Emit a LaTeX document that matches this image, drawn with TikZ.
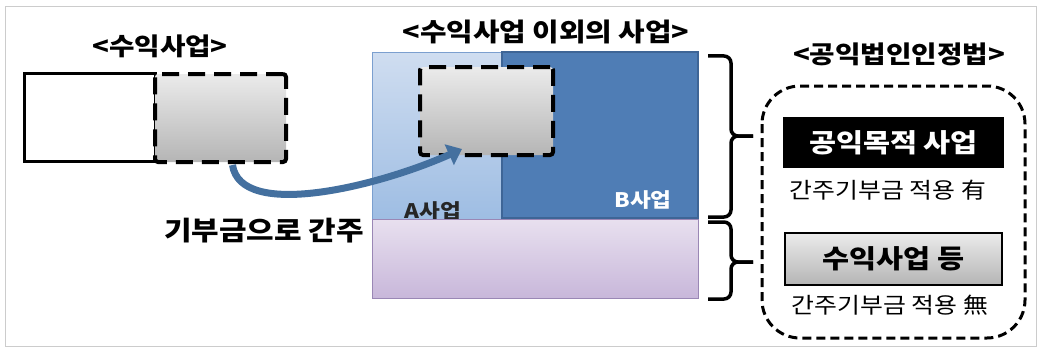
\documentclass[tikz,border=0pt]{standalone}
\usepackage{fontspec}
\setmainfont[FakeStretch=1.13]{Noto Sans CJK KR}
\usetikzlibrary{arrows.meta}
\definecolor{arrowblue}{HTML}{44709F}
\definecolor{bblue}{HTML}{4F7DB5}
\definecolor{bblueline}{HTML}{3E6596}
\definecolor{ablue1}{HTML}{CFDDF0}
\definecolor{ablue2}{HTML}{9EBDE3}
\definecolor{abline}{HTML}{7B9FCF}
\definecolor{purp1}{HTML}{E8E0EF}
\definecolor{purp2}{HTML}{C8B7DA}
\definecolor{purpline}{HTML}{9A87B5}
\definecolor{gray1}{HTML}{EBEBEB}
\definecolor{gray2}{HTML}{B5B5B5}
\begin{document}
\begin{tikzpicture}[x=1pt,y=-1pt,
  title/.style={font=\bfseries\fontsize{24.5}{28}\selectfont},
  note/.style={font=\fontsize{22}{26}\selectfont},
  plainbox/.style={draw=black, line width=3pt, fill=white, inner sep=0pt},
  dashbox/.style={draw=black, line width=4pt, dash pattern=on 17pt off 9pt, rounded corners=3pt, top color=gray1, bottom color=gray2, inner sep=0pt},
  bracestyle/.style={draw=black, line width=3.5pt, rounded corners=7pt},
  sublabel/.style={font=\bfseries\fontsize{20}{24}\selectfont},
]
\useasboundingbox (0,0) rectangle (1043,353);
\draw[black!20, line width=1pt] (5,7) rectangle (1036,346);

% left part
\node[title] (t1) at (160,46) {<수익사업>};
\node[plainbox, minimum width=131pt, minimum height=88pt] (w) at (89.5,117) {};
\node[dashbox, minimum width=131pt, minimum height=88pt] (g) at (220.5,118) {};
\node[font=\bfseries\fontsize{26.5}{30}\selectfont] (kibu) at (264,231) {기부금으로 간주};

% middle part
\node[title, font=\bfseries\fontsize{25.5}{30}\selectfont] (t2) at (546,32) {<수익사업 이외의 사업>};
\node[draw=abline, line width=1pt, top color=ablue1, bottom color=ablue2, minimum width=130pt, minimum height=166pt, inner sep=0pt] (A) at (437,136) {};
\node[draw=bblueline, line width=1.5pt, fill=bblue, minimum width=196pt, minimum height=166pt, inner sep=0pt] (B) at (600,135) {};
\node[sublabel, text=black!85] (Alab) at (433,211) {A사업};
\node[draw=purpline, line width=1pt, top color=purp1, bottom color=purp2, minimum width=326pt, minimum height=79pt, inner sep=0pt] (P) at (535,258.5) {};
\node[dashbox, minimum width=133pt, minimum height=88pt] (ga) at (486.5,111) {};
\node[sublabel, text=white] (Blab) at (643,200) {B사업};

% arrow
\draw[arrowblue, line width=7pt, -{Triangle[length=14pt,width=22pt]}]
  ([xshift=12pt,yshift=-1pt]g.south) .. controls +(8,55) and +(-85,38) .. ([xshift=44pt,yshift=8pt]ga.south west);

% braces
\draw[bracestyle] (708,56) -- (731,56) -- (731,136) -- (753,136);
\draw[bracestyle] (708,217) -- (731,217) -- (731,136) -- (753,136);
\draw[bracestyle] (708,222) -- (731,222) -- (731,262) -- (753,262);
\draw[bracestyle] (708,299) -- (731,299) -- (731,262) -- (753,262);

% right part
\node[title] (t3) at (899,54) {<공익법인인정법>};
\draw[line width=3pt, dash pattern=on 9pt off 5pt, rounded corners=38pt] (762,86) rectangle (1025,338);
\node[fill=black, minimum width=221pt, minimum height=51pt, inner sep=0pt, text=white, font=\bfseries\fontsize{26}{30}\selectfont] (pub) at (893.5,142.5) {공익목적 사업};
\node[note] (n1) at (888,190) {간주기부금 적용 有};
\node[draw=black, line width=2pt, top color=gray1, bottom color=gray2, minimum width=217pt, minimum height=52pt, inner sep=0pt, font=\bfseries\fontsize{26}{30}\selectfont] (prof) at (893.5,259) {수익사업 등};
\node[note] (n2) at (890,305) {간주기부금 적용 無};
\end{tikzpicture}
\end{document}
